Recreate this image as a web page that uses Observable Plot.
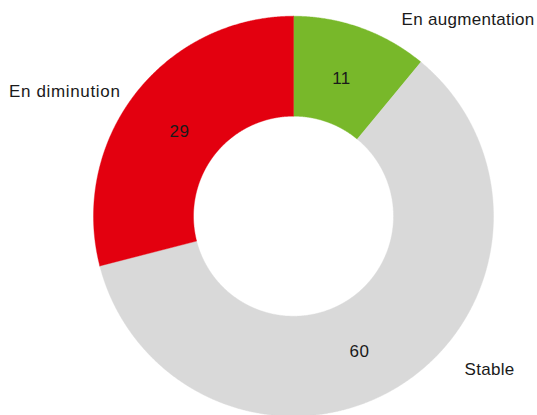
<!DOCTYPE html>
<html>
<head>
<meta charset="utf-8">
<script src="https://cdn.jsdelivr.net/npm/d3@7"></script>
<script src="https://cdn.jsdelivr.net/npm/@observablehq/plot@0.6"></script>
<style>
  html, body { margin: 0; padding: 0; background: #fff; }
  #chart svg { display: block; }
  #chart svg .lbl-start text { letter-spacing: 0.3px; }
  #chart svg .lbl-end text { letter-spacing: 0.65px; }
  #chart svg .lbl-val text { letter-spacing: 0.5px; }
</style>
</head>
<body>
<div id="chart"></div>
<script>
// ---- data ----
const categories = ["En augmentation", "Stable", "En diminution"];
const values = [11, 60, 29];
const colors = ["#78b82a", "#d9d9d9", "#e3000f"];

// ---- layout (chart units = pixels, origin at donut centre, y up) ----
const innerR = 100, outerR = 200;
const nameLabelPos = [
  {x: 108, y: 197, anchor: "start"},
  {x: 171, y: -153, anchor: "start"},
  {x: -173, y: 124.5, anchor: "end"}
];
const valueLabelPos = [
  {x: 48, y: 137.5},
  {x: 66, y: -135.5},
  {x: -114, y: 84.5}
];

// build slice polygons from the values
const total = d3.sum(values);
const pts = [];
let acc = 0;
values.forEach((v, i) => {
  const a0 = acc / total * 2 * Math.PI;
  acc += v;
  const a1 = acc / total * 2 * Math.PI;
  const n = Math.max(4, Math.ceil((a1 - a0) / 0.004));
  for (let k = 0; k <= n; k++) {
    const a = a0 + (a1 - a0) * k / n;
    pts.push({cat: categories[i], x: outerR * Math.sin(a), y: outerR * Math.cos(a)});
  }
  for (let k = n; k >= 0; k--) {
    const a = a0 + (a1 - a0) * k / n;
    pts.push({cat: categories[i], x: innerR * Math.sin(a), y: innerR * Math.cos(a)});
  }
  pts.push({cat: categories[i], x: outerR * Math.sin(a0), y: outerR * Math.cos(a0)});
});

const nameLabels = categories.map((c, i) => ({text: c, ...nameLabelPos[i]}));
const valueLabels = values.map((v, i) => ({text: String(v), ...valueLabelPos[i]}));

const font = "'Liberation Sans', Arial, Helvetica, sans-serif";

const chart = Plot.plot({
  width: 537,
  height: 415,
  margin: 0,
  style: {fontFamily: font, background: "#fff"},
  x: {domain: [-293, 244], axis: null},
  y: {domain: [-199.3, 215.7], axis: null},
  color: {domain: categories, range: colors},
  marks: [
    Plot.line(pts, {x: "x", y: "y", z: "cat", fill: "cat", stroke: "cat", strokeWidth: 0.4, curve: "linear"}),
    Plot.text(valueLabels, {x: "x", y: "y", text: "text", fontSize: 17, fill: "#1a1a1a", textAnchor: "middle", className: "lbl-val"}),
    Plot.text(nameLabels.filter(d => d.anchor === "start"), {x: "x", y: "y", text: "text", fontSize: 17, fill: "#1a1a1a", textAnchor: "start", className: "lbl-start"}),
    Plot.text(nameLabels.filter(d => d.anchor === "end"), {x: "x", y: "y", text: "text", fontSize: 17, fill: "#1a1a1a", textAnchor: "end", className: "lbl-end"})
  ]
});
document.getElementById("chart").appendChild(chart);
</script>
</body>
</html>
